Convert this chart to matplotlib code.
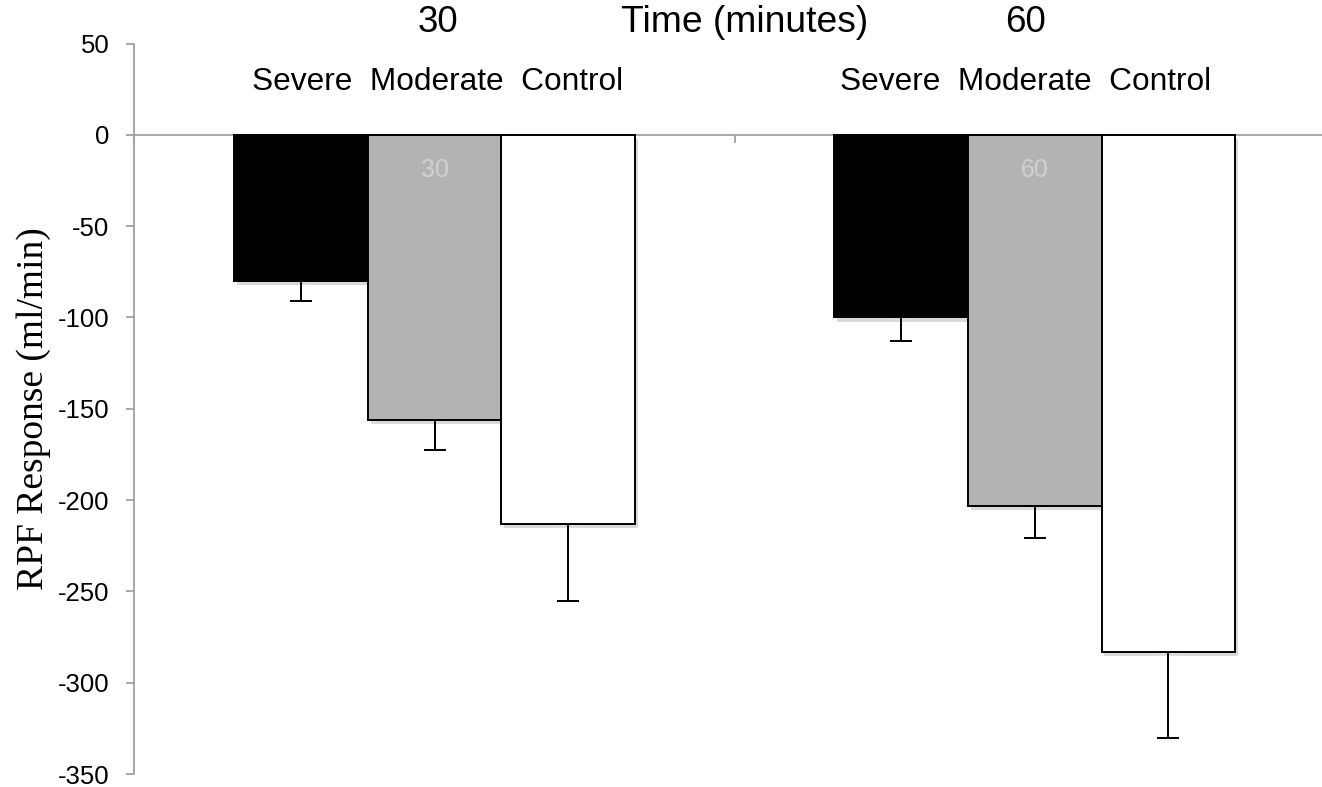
import matplotlib
matplotlib.use("Agg")
import matplotlib.pyplot as plt
import matplotlib.patheffects as pe
from matplotlib.transforms import blended_transform_factory
import numpy as np

# RPF change from baseline (ml/min) at each time point
times = ["30", "60"]
groups = ["Severe", "Moderate", "Control"]
severe = [-80, -100]
moderate = [-156, -203]
control = [-213, -283]
severe_err = [11, 13]
moderate_err = [16.5, 18]
control_err = [42.5, 47.5]

colors = ["#000000", "#B3B3B3", "#FFFFFF"]
axis_grey = "#A0A0A0"

plt.rcParams["font.family"] = ["Liberation Sans", "DejaVu Sans"]
plt.rcParams["axes.unicode_minus"] = False

fig = plt.figure(figsize=(13.22, 7.87), dpi=100)
ax = fig.add_axes([0.1017, 0.0165, 0.9081, 0.9282])

x = np.arange(len(times))
width = 0.2225
shadow = [pe.SimplePatchShadow(offset=(2, -3), shadow_rgbFace="#000000", alpha=0.15), pe.Normal()]

series = [(severe, severe_err), (moderate, moderate_err), (control, control_err)]
for k, (vals, errs) in enumerate(series):
    pos = x + (k - 1) * width
    bars = ax.bar(pos, vals, width, color=colors[k], edgecolor="black", linewidth=1.4, zorder=2)
    for b in bars:
        b.set_path_effects(shadow)
    ax.errorbar(pos, vals, yerr=[errs, np.zeros(len(errs))], fmt="none", ecolor="black",
                elinewidth=1.4, capsize=8, capthick=1.4, zorder=3)

# faint category labels inside the middle bars
for i, t in enumerate(times):
    ax.text(x[i], -19, t, ha="center", va="center", fontsize=18, color="#D0D0D0", zorder=4)

# header rows above the plot area
trans = blended_transform_factory(ax.transData, fig.transFigure)
shift = [0.005, -0.015]
for i, t in enumerate(times):
    ax.text(x[i] + shift[i], 0.971, t, transform=trans, ha="center", va="center", fontsize=26.5)
    ax.text(x[i] + shift[i], 0.896, "Severe  Moderate  Control", transform=trans,
            ha="center", va="center", fontsize=22.8)
ax.text(0.517, 0.971, "Time (minutes)", transform=trans, ha="center", va="center", fontsize=26.8)

ax.set_xlim(-0.5, 1.5)
ax.set_ylim(-350, 50)
ax.set_yticks(np.arange(-350, 51, 50))
ax.set_xticks([-0.5, 0.5, 1.5])
ax.set_xticklabels([])

for s in ["top", "right"]:
    ax.spines[s].set_visible(False)
ax.spines["bottom"].set_position(("data", 0))
ax.spines["bottom"].set_zorder(1)
for s in ["left", "bottom"]:
    ax.spines[s].set_color(axis_grey)
    ax.spines[s].set_linewidth(1.3)

ax.tick_params(axis="y", direction="out", length=6, width=1.3, color=axis_grey,
               labelsize=18.5, pad=12)
ax.tick_params(axis="x", direction="out", length=6, width=1.3, color=axis_grey)

ax.set_ylabel("RPF Response (ml/min)", family=["Liberation Serif", "DejaVu Serif"],
              fontsize=27, labelpad=5)

fig.savefig("out.png", dpi=100)
